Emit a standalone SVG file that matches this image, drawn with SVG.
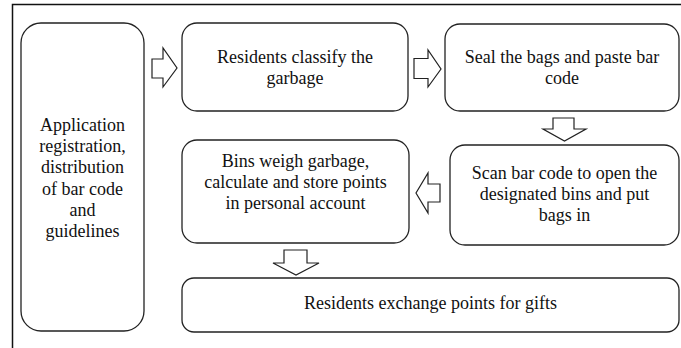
<svg xmlns="http://www.w3.org/2000/svg" width="681" height="348" viewBox="0 0 681 348">
<style>
.box{fill:#fff;stroke:#222;stroke-width:1.3}
.arr{fill:#fff;stroke:#222;stroke-width:1.2;stroke-linejoin:miter}
text{font-family:"Liberation Serif","Times New Roman",serif;font-size:18px;fill:#111;text-anchor:middle}
</style>
<rect x="0" y="0" width="681" height="348" fill="#fff"/>
<path d="M12.5,348 V4.5 H681" fill="none" stroke="#111" stroke-width="1.5"/>
<g id="n-app">
<rect class="box" x="21" y="23" width="123" height="308" rx="20"/>
<text x="82.5" y="131">Application</text>
<text x="82.5" y="152">registration,</text>
<text x="82.5" y="173">distribution</text>
<text x="82.5" y="195">of bar code</text>
<text x="82.5" y="216">and</text>
<text x="82.5" y="237">guidelines</text>
</g>
<g id="n-classify">
<rect class="box" x="182" y="23" width="226" height="88" rx="15"/>
<text x="295" y="63">Residents classify the</text>
<text x="295" y="84">garbage</text>
</g>
<g id="n-seal">
<rect class="box" x="445" y="24" width="234" height="87" rx="15"/>
<text x="562" y="63">Seal the bags and paste bar</text>
<text x="562" y="84">code</text>
</g>
<g id="n-scan">
<rect class="box" x="450" y="145" width="229" height="100" rx="15"/>
<text x="564.5" y="179">Scan bar code to open the</text>
<text x="564.5" y="200">designated bins and put</text>
<text x="564.5" y="221">bags in</text>
</g>
<g id="n-bins">
<rect class="box" x="182" y="140" width="227" height="103" rx="15"/>
<text x="295.5" y="167">Bins weigh garbage,</text>
<text x="295.5" y="188">calculate and store points</text>
<text x="295.5" y="209">in personal account</text>
</g>
<g id="n-exchange">
<rect class="box" x="182" y="278" width="497" height="54" rx="12"/>
<text x="430.5" y="309">Residents exchange points for gifts</text>
</g>
<g id="connectors">
<path class="arr" d="M152,59 H163 V48 L177,68 L163,87 V78 H152 Z"/>
<path class="arr" d="M414,58.5 H428 V50 L441,69 L428,87 V78.5 H414 Z"/>
<path class="arr" d="M553,118 V129 H543 L564.5,141 L586,129 H574 V118 Z"/>
<path class="arr" d="M440,184 H428 V173 L416,193 L428,213 V202 H440 Z"/>
<path class="arr" d="M284,250 V263 H273 L296,275 L319,263 H307 V250 Z"/>
</g>
</svg>
